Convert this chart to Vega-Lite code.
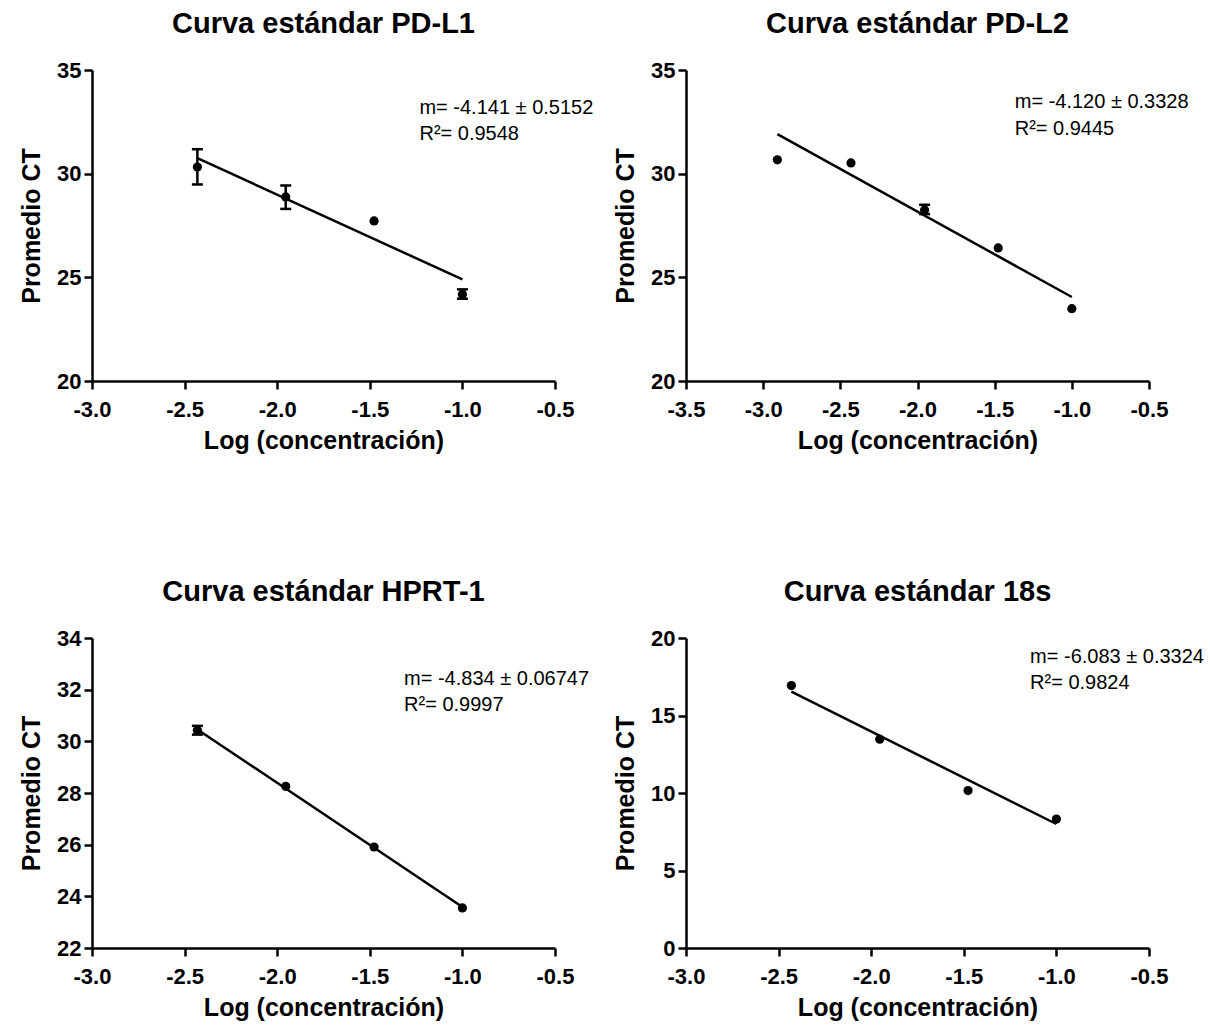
{
  "$schema": "https://vega.github.io/schema/vega-lite/v6.json",
  "padding": {"left": 19, "top": 10, "right": 5, "bottom": 5},
  "background": "white",
  "datasets": {
    "points": [
      {"g": "PD-L1", "x": -2.431, "ct": 30.32, "lo": 29.48, "hi": 31.18},
      {"g": "PD-L1", "x": -1.954, "ct": 28.88, "lo": 28.3, "hi": 29.43},
      {"g": "PD-L1", "x": -1.477, "ct": 27.72},
      {"g": "PD-L1", "x": -1.0, "ct": 24.18, "lo": 23.97, "hi": 24.42},
      {"g": "PD-L2", "x": -2.908, "ct": 30.67},
      {"g": "PD-L2", "x": -2.431, "ct": 30.52},
      {"g": "PD-L2", "x": -1.954, "ct": 28.25, "lo": 28.05, "hi": 28.5},
      {"g": "PD-L2", "x": -1.477, "ct": 26.42},
      {"g": "PD-L2", "x": -1.0, "ct": 23.49},
      {"g": "HPRT-1", "x": -2.431, "ct": 30.43, "lo": 30.26, "hi": 30.6},
      {"g": "HPRT-1", "x": -1.954, "ct": 28.26},
      {"g": "HPRT-1", "x": -1.477, "ct": 25.91},
      {"g": "HPRT-1", "x": -1.0, "ct": 23.55},
      {"g": "18s", "x": -2.431, "ct": 16.93},
      {"g": "18s", "x": -1.954, "ct": 13.47},
      {"g": "18s", "x": -1.477, "ct": 10.16},
      {"g": "18s", "x": -1.0, "ct": 8.32}
    ],
    "fits": [
      {"g": "PD-L1", "x": -2.431, "ct": 30.75},
      {"g": "PD-L1", "x": -1.0, "ct": 24.9},
      {"g": "PD-L2", "x": -2.908, "ct": 31.91},
      {"g": "PD-L2", "x": -1.0, "ct": 24.05},
      {"g": "HPRT-1", "x": -2.431, "ct": 30.46},
      {"g": "HPRT-1", "x": -1.0, "ct": 23.59},
      {"g": "18s", "x": -2.431, "ct": 16.54},
      {"g": "18s", "x": -1.0, "ct": 8.0}
    ],
    "notes": [
      {"g": "PD-L1", "x": -1.232, "ct": 33.18, "label": "m= -4.141 ± 0.5152"},
      {"g": "PD-L1", "x": -1.232, "ct": 31.9, "label": "R²= 0.9548"},
      {"g": "PD-L2", "x": -1.37, "ct": 33.47, "label": "m= -4.120 ± 0.3328"},
      {"g": "PD-L2", "x": -1.37, "ct": 32.15, "label": "R²= 0.9445"},
      {"g": "HPRT-1", "x": -1.315, "ct": 32.43, "label": "m= -4.834 ± 0.06747"},
      {"g": "HPRT-1", "x": -1.315, "ct": 31.42, "label": "R²= 0.9997"},
      {"g": "18s", "x": -1.142, "ct": 18.75, "label": "m= -6.083 ± 0.3324"},
      {"g": "18s", "x": -1.142, "ct": 17.08, "label": "R²= 0.9824"}
    ]
  },
  "columns": 2,
  "spacing": {"row": 257, "column": 131},
  "bounds": "flush",
  "concat": [
    {
      "title": "Curva estándar PD-L1",
      "width": 463, "height": 311,
      "encoding": {
        "x": {"field": "x", "type": "quantitative", "title": "Log (concentración)", "scale": {"domain": [-3, -0.5], "nice": false, "zero": false}, "axis": {"values": [-3, -2.5, -2, -1.5, -1, -0.5], "format": ".1f", "labelExpr": "replace(datum.label, '−', '-')"}},
        "y": {"field": "ct", "type": "quantitative", "title": "Promedio CT", "scale": {"domain": [20, 35], "nice": false, "zero": false}, "axis": {"values": [20, 25, 30, 35]}}
      },
      "layer": [
        {"data": {"name": "points"}, "transform": [{"filter": "datum.g === 'PD-L1' && isValid(datum.lo)"}], "mark": {"type": "rule", "color": "black", "strokeWidth": 2.5}, "encoding": {"y": {"field": "lo", "type": "quantitative", "title": "Promedio CT"}, "y2": {"field": "hi"}}},
        {"data": {"name": "points"}, "transform": [{"filter": "datum.g === 'PD-L1' && isValid(datum.lo)"}], "mark": {"type": "tick", "orient": "horizontal", "color": "black", "size": 11, "thickness": 2.5, "opacity": 1}, "encoding": {"y": {"field": "lo", "type": "quantitative", "title": "Promedio CT"}}},
        {"data": {"name": "points"}, "transform": [{"filter": "datum.g === 'PD-L1' && isValid(datum.lo)"}], "mark": {"type": "tick", "orient": "horizontal", "color": "black", "size": 11, "thickness": 2.5, "opacity": 1}, "encoding": {"y": {"field": "hi", "type": "quantitative", "title": "Promedio CT"}}},
        {"data": {"name": "points"}, "transform": [{"filter": "datum.g === 'PD-L1'"}], "mark": {"type": "point", "filled": true, "size": 85, "color": "black", "opacity": 1}},
        {"data": {"name": "fits"}, "transform": [{"filter": "datum.g === 'PD-L1'"}], "mark": {"type": "line", "color": "black", "strokeWidth": 2.5}},
        {"data": {"name": "notes"}, "transform": [{"filter": "datum.g === 'PD-L1'"}], "mark": {"type": "text", "align": "left", "baseline": "middle", "fontSize": 20, "font": "Liberation Sans", "color": "black"}, "encoding": {"text": {"field": "label"}}}
      ]
    },
    {
      "title": "Curva estándar PD-L2",
      "width": 463, "height": 311,
      "encoding": {
        "x": {"field": "x", "type": "quantitative", "title": "Log (concentración)", "scale": {"domain": [-3.5, -0.5], "nice": false, "zero": false}, "axis": {"values": [-3.5, -3, -2.5, -2, -1.5, -1, -0.5], "format": ".1f", "labelExpr": "replace(datum.label, '−', '-')"}},
        "y": {"field": "ct", "type": "quantitative", "title": "Promedio CT", "scale": {"domain": [20, 35], "nice": false, "zero": false}, "axis": {"values": [20, 25, 30, 35]}}
      },
      "layer": [
        {"data": {"name": "points"}, "transform": [{"filter": "datum.g === 'PD-L2' && isValid(datum.lo)"}], "mark": {"type": "rule", "color": "black", "strokeWidth": 2.5}, "encoding": {"y": {"field": "lo", "type": "quantitative", "title": "Promedio CT"}, "y2": {"field": "hi"}}},
        {"data": {"name": "points"}, "transform": [{"filter": "datum.g === 'PD-L2' && isValid(datum.lo)"}], "mark": {"type": "tick", "orient": "horizontal", "color": "black", "size": 11, "thickness": 2.5, "opacity": 1}, "encoding": {"y": {"field": "lo", "type": "quantitative", "title": "Promedio CT"}}},
        {"data": {"name": "points"}, "transform": [{"filter": "datum.g === 'PD-L2' && isValid(datum.lo)"}], "mark": {"type": "tick", "orient": "horizontal", "color": "black", "size": 11, "thickness": 2.5, "opacity": 1}, "encoding": {"y": {"field": "hi", "type": "quantitative", "title": "Promedio CT"}}},
        {"data": {"name": "points"}, "transform": [{"filter": "datum.g === 'PD-L2'"}], "mark": {"type": "point", "filled": true, "size": 85, "color": "black", "opacity": 1}},
        {"data": {"name": "fits"}, "transform": [{"filter": "datum.g === 'PD-L2'"}], "mark": {"type": "line", "color": "black", "strokeWidth": 2.5}},
        {"data": {"name": "notes"}, "transform": [{"filter": "datum.g === 'PD-L2'"}], "mark": {"type": "text", "align": "left", "baseline": "middle", "fontSize": 20, "font": "Liberation Sans", "color": "black"}, "encoding": {"text": {"field": "label"}}}
      ]
    },
    {
      "title": "Curva estándar HPRT-1",
      "width": 463, "height": 310,
      "encoding": {
        "x": {"field": "x", "type": "quantitative", "title": "Log (concentración)", "scale": {"domain": [-3, -0.5], "nice": false, "zero": false}, "axis": {"values": [-3, -2.5, -2, -1.5, -1, -0.5], "format": ".1f", "labelExpr": "replace(datum.label, '−', '-')"}},
        "y": {"field": "ct", "type": "quantitative", "title": "Promedio CT", "scale": {"domain": [22, 34], "nice": false, "zero": false}, "axis": {"values": [22, 24, 26, 28, 30, 32, 34]}}
      },
      "layer": [
        {"data": {"name": "points"}, "transform": [{"filter": "datum.g === 'HPRT-1' && isValid(datum.lo)"}], "mark": {"type": "rule", "color": "black", "strokeWidth": 2.5}, "encoding": {"y": {"field": "lo", "type": "quantitative", "title": "Promedio CT"}, "y2": {"field": "hi"}}},
        {"data": {"name": "points"}, "transform": [{"filter": "datum.g === 'HPRT-1' && isValid(datum.lo)"}], "mark": {"type": "tick", "orient": "horizontal", "color": "black", "size": 11, "thickness": 2.5, "opacity": 1}, "encoding": {"y": {"field": "lo", "type": "quantitative", "title": "Promedio CT"}}},
        {"data": {"name": "points"}, "transform": [{"filter": "datum.g === 'HPRT-1' && isValid(datum.lo)"}], "mark": {"type": "tick", "orient": "horizontal", "color": "black", "size": 11, "thickness": 2.5, "opacity": 1}, "encoding": {"y": {"field": "hi", "type": "quantitative", "title": "Promedio CT"}}},
        {"data": {"name": "points"}, "transform": [{"filter": "datum.g === 'HPRT-1'"}], "mark": {"type": "point", "filled": true, "size": 85, "color": "black", "opacity": 1}},
        {"data": {"name": "fits"}, "transform": [{"filter": "datum.g === 'HPRT-1'"}], "mark": {"type": "line", "color": "black", "strokeWidth": 2.5}},
        {"data": {"name": "notes"}, "transform": [{"filter": "datum.g === 'HPRT-1'"}], "mark": {"type": "text", "align": "left", "baseline": "middle", "fontSize": 20, "font": "Liberation Sans", "color": "black"}, "encoding": {"text": {"field": "label"}}}
      ]
    },
    {
      "title": "Curva estándar 18s",
      "width": 463, "height": 310,
      "encoding": {
        "x": {"field": "x", "type": "quantitative", "title": "Log (concentración)", "scale": {"domain": [-3, -0.5], "nice": false, "zero": false}, "axis": {"values": [-3, -2.5, -2, -1.5, -1, -0.5], "format": ".1f", "labelExpr": "replace(datum.label, '−', '-')"}},
        "y": {"field": "ct", "type": "quantitative", "title": "Promedio CT", "scale": {"domain": [0, 20], "nice": false, "zero": false}, "axis": {"values": [0, 5, 10, 15, 20]}}
      },
      "layer": [
        {"data": {"name": "points"}, "transform": [{"filter": "datum.g === '18s'"}], "mark": {"type": "point", "filled": true, "size": 85, "color": "black", "opacity": 1}},
        {"data": {"name": "fits"}, "transform": [{"filter": "datum.g === '18s'"}], "mark": {"type": "line", "color": "black", "strokeWidth": 2.5}},
        {"data": {"name": "notes"}, "transform": [{"filter": "datum.g === '18s'"}], "mark": {"type": "text", "align": "left", "baseline": "middle", "fontSize": 20, "font": "Liberation Sans", "color": "black"}, "encoding": {"text": {"field": "label"}}}
      ]
    }
  ],
  "config": {
    "view": {"stroke": null},
    "font": "Liberation Sans",
    "axis": {
      "grid": false,
      "domainColor": "black", "domainWidth": 2.5,
      "tickColor": "black", "tickWidth": 2.5, "tickSize": 8,
      "labelFont": "Liberation Sans", "labelFontSize": 22, "labelFontWeight": "bold", "labelColor": "black",
      "titleFont": "Liberation Sans", "titleFontSize": 25, "titleFontWeight": "bold", "titleColor": "black"
    },
    "axisX": {"labelPadding": 10, "titlePadding": 8, "labelFlush": false},
    "axisY": {"labelPadding": 3, "titlePadding": 12},
    "title": {"font": "Liberation Sans", "fontSize": 29, "fontWeight": "bold", "color": "black", "offset": 20, "anchor": "middle"}
  }
}
